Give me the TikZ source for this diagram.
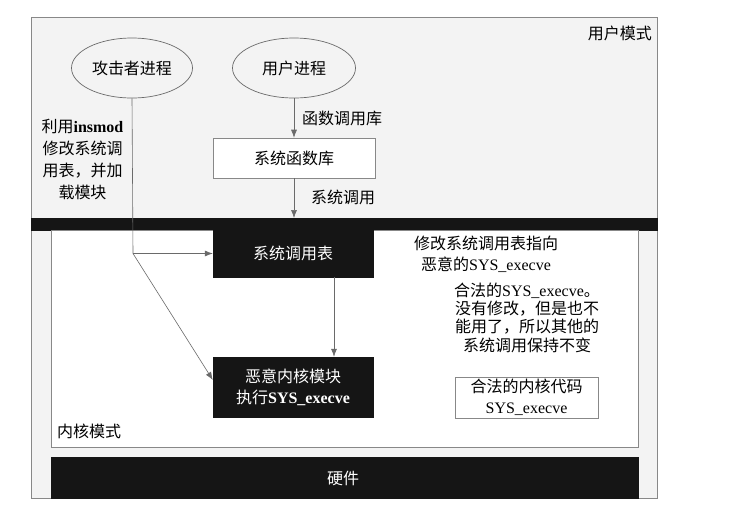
\documentclass[tikz,border=0pt]{standalone}
\usepackage{fontspec}
\setmainfont{Noto Sans CJK SC}
\newfontfamily\latfont{Liberation Serif}
\newcommand{\lat}[1]{{\latfont\bfseries #1}}
\newcommand{\latr}[1]{{\latfont #1}}
\usetikzlibrary{arrows.meta,shapes.geometric}
\definecolor{ink}{HTML}{151515}
\definecolor{paper}{HTML}{F3F3F3}
\definecolor{linec}{HTML}{6A6A6A}
\begin{document}
\begin{tikzpicture}[x=1pt,y=-1pt,
  font=\fontsize{16}{21}\selectfont,
  region/.style={draw=linec!80, line width=0.6pt, anchor=north west, inner sep=0pt, outer sep=0pt},
  blackbox/.style={fill=ink, draw=ink, text=white, inner sep=0pt, align=center},
  lightbox/.style={fill=white, draw=linec!80, line width=0.6pt, inner sep=0pt, align=center},
  proc/.style={ellipse, draw=linec, line width=0.7pt, fill=paper, inner sep=0pt},
  conn/.style={draw=linec, line width=0.6pt},
  arr/.style={conn, -{Latex[length=8pt,width=6pt]}},
  lbl/.style={inner sep=0pt, align=center}
]
\useasboundingbox (0,0) rectangle (740,520);
\fill[white] (0,0) rectangle (740,520);

% regions
\node[region, fill=paper, minimum width=626pt, minimum height=481pt] (user) at (31,17) {};
\node[region, fill=ink, draw=ink, minimum width=626pt, minimum height=12pt] (bar) at (31,218) {};
\node[region, fill=white, minimum width=587pt, minimum height=217pt] (kernel) at (51,230) {};
\node[region, fill=ink, draw=ink, minimum width=587pt, minimum height=41pt] (hw) at (51,457) {};
\node[lbl, text=white] (hwtext) at (343,478) {硬件};

\node[lbl, anchor=east] (umode) at (652,33) {用户模式};
\node[lbl, anchor=west] (kmode) at (57,431) {内核模式};

% processes
\node[proc, minimum width=121pt, minimum height=60pt] (att) at (132,68) {攻击者进程};
\node[proc, minimum width=123pt, minimum height=60pt] (up) at (294,68) {用户进程};

% boxes
\node[lightbox, minimum width=162pt, minimum height=40pt] (lib) at (294,158) {系统函数库};
\node[blackbox, minimum width=160pt, minimum height=47pt] (sct) at (293,253.5) {系统调用表};
\node[blackbox, minimum width=160pt, minimum height=60pt] (mal) at (293,387) {恶意内核模块\\执行\lat{SYS\_execve}};
\node[lightbox, minimum width=143pt, minimum height=41pt] (legit) at (526.5,397.5) {合法的内核代码\\\latr{SYS\_execve}};

% connectors
\coordinate (barhit) at (294,218);
\coordinate (split) at (133,253.5);
\draw[arr] (up.south) -- (lib.north);
\draw[arr] (lib.south) -- (barhit);
\draw[conn] (att.south) -- (split);
\draw[arr] (split) -- (sct.west);
\draw[arr] (split) -- ([yshift=7pt]mal.west);
\draw[arr] ([xshift=41pt]sct.south) -- ([xshift=41pt]mal.north);

% labels
\node[lbl, anchor=west] (l1) at (302,118) {函数调用库};
\node[lbl, anchor=west] (l2) at (311,197) {系统调用};
\node[lbl, font=\fontsize{16}{21.7}\selectfont] (l3) at (82.5,159.5) {利用\lat{insmod}\\修改系统调\\用表，并加\\载模块};
\node[lbl] (l4) at (486,254) {修改系统调用表指向\\恶意的\latr{SYS\_execve}};
\node[lbl, font=\fontsize{16}{18.3}\selectfont] (l5) at (527,317.5) {合法的\latr{SYS\_execve}。\\没有修改，但是也不\\能用了，所以其他的\\系统调用保持不变};
\end{tikzpicture}
\end{document}
